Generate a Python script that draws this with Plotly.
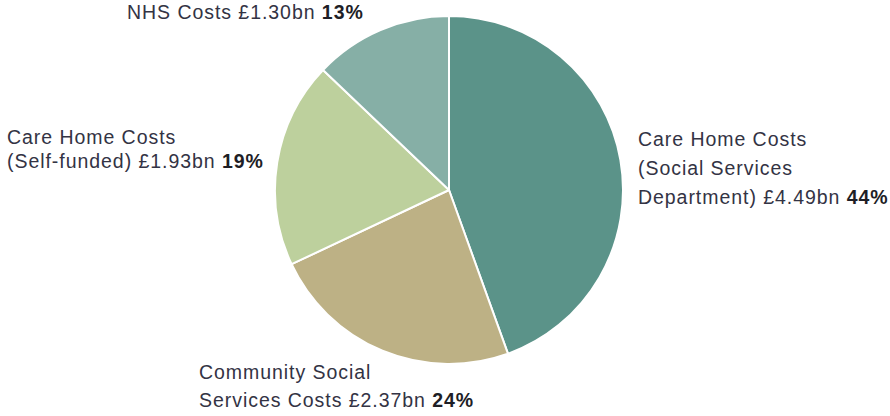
import plotly.graph_objects as go

# Cost breakdown (GBP billions)
labels = [
    "Care Home Costs (Social Services Department)",
    "Community Social Services Costs",
    "Care Home Costs (Self-funded)",
    "NHS Costs",
]
values = [4.49, 2.37, 1.93, 1.30]
shares = [44, 24, 19, 13]
colors = ["#5b9389", "#bdb185", "#bdd09d", "#86afa6"]

W, H = 890, 416
cx, cy, r = 449, 190, 174

fig = go.Figure(
    go.Pie(
        labels=labels,
        values=values,
        sort=False,
        direction="clockwise",
        rotation=0,
        marker=dict(colors=colors, line=dict(color="white", width=2)),
        textinfo="none",
        hoverinfo="label+value",
        showlegend=False,
        domain=dict(
            x=[(cx - r) / W, (cx + r) / W],
            y=[1 - (cy + r) / H, 1 - (cy - r) / H],
        ),
    )
)

FONT = dict(family="Liberation Sans, Arial, sans-serif", size=19.5, color="#333344")
SPACED = "letter-spacing:0.95px"


def label_lines(lines, x, ys):
    for text, y in zip(lines, ys):
        fig.add_annotation(
            text=f"<span style='{SPACED}'>{text}</span>",
            x=x / W, y=1 - y / H, xref="paper", yref="paper",
            xanchor="left", yanchor="middle", showarrow=False, font=FONT,
        )


def amt(i):
    return f"£{values[i]:.2f}bn <b style='color:#1e1e26'>{shares[i]}%</b>"


label_lines([f"NHS Costs {amt(3)}"], 125, [12])
label_lines(["Care Home Costs", f"(Self-funded) {amt(2)}"], 5, [137, 161])
label_lines(
    ["Care Home Costs", "(Social Services", f"Department) {amt(0)}"],
    636, [139, 168, 197],
)
label_lines(["Community Social", f"Services Costs {amt(1)}"], 197, [372, 400])

fig.update_layout(
    width=W, height=H,
    margin=dict(l=0, r=0, t=0, b=0),
    paper_bgcolor="white", plot_bgcolor="white",
)

fig.write_html("out.html")
